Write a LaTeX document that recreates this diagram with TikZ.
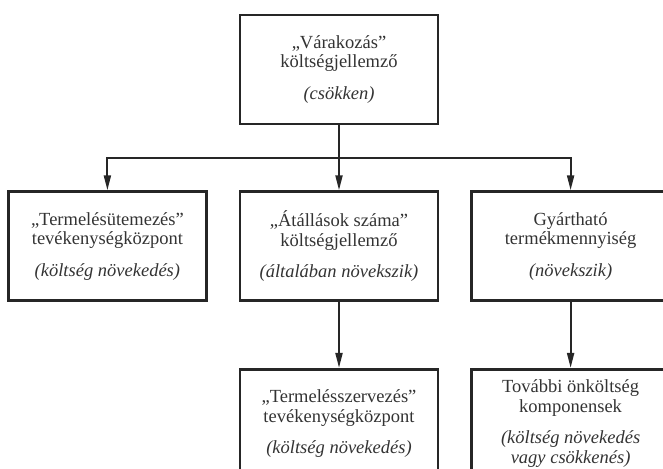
\documentclass[tikz,border=0pt]{standalone}
\usepackage{fontspec}
\setmainfont{Liberation Serif}
\usetikzlibrary{arrows.meta,positioning,calc}
\tikzset{
  costbox/.style={draw=black!85, line width=2.6pt, minimum width=198pt, minimum height=109pt, align=center, text=black!80, inner sep=3pt},
  flowarrow/.style={-{Triangle[length=15pt,width=7pt]}, line width=2pt, draw=black!85},
}

\begin{document}
\begin{tikzpicture}[node distance=65pt and 31pt, font=\fontsize{18.5}{19.5}\selectfont]
  \useasboundingbox (0,0) rectangle (663pt,-468pt);
  \clip (0,0) rectangle (663pt,-468pt);
  \node[costbox] (wait) at (339pt,-69.5pt) {„Várakozás”\\költségjellemző\\[12pt]\textit{(csökken)}};
  \node[costbox, below=of wait] (switch) {„Átállások száma”\\költségjellemző\\[12pt]\textit{(általában növekszik)}};
  \node[costbox, left=of switch] (sched) {„Termelésütemezés”\\tevékenységközpont\\[12pt]\textit{(költség növekedés)}};
  \node[costbox, right=of switch] (qty) {Gyártható\\termékmennyiség\\[12pt]\textit{(növekszik)}};
  \node[costbox, below=66pt of switch] (org) {„Termelésszervezés”\\tevékenységközpont\\[12pt]\textit{(költség növekedés)}};
  \node[costbox, below=66pt of qty] (other) {További önköltség\\komponensek\\[12pt]\textit{(költség növekedés}\\\textit{vagy csökkenés)}};

  \coordinate (split) at ($(wait.south)!0.5!(switch.north)$);
  \draw[flowarrow] (wait) -- (switch);
  \draw[flowarrow] (split) -| (sched);
  \draw[flowarrow] (split) -| (qty);
  \foreach \a/\b in {switch/org, qty/other}
    \draw[flowarrow] (\a) -- (\b);
\end{tikzpicture}
\end{document}
